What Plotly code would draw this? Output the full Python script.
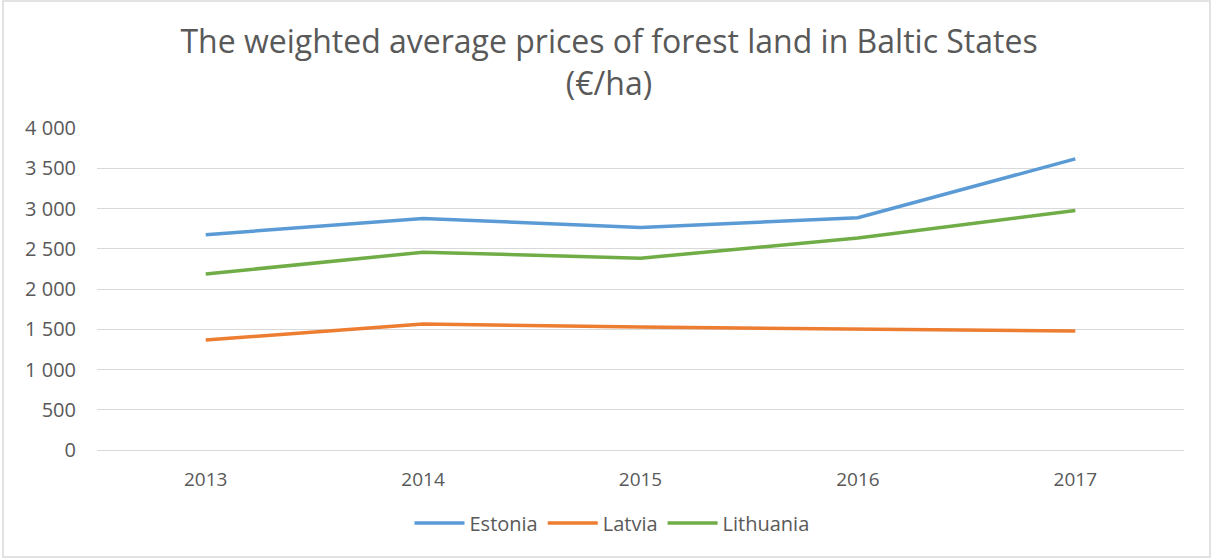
import plotly.graph_objects as go

years = ["2013", "2014", "2015", "2016", "2017"]
estonia = [2675, 2877, 2765, 2885, 3616]
latvia = [1366, 1564, 1527, 1498, 1477]
lithuania = [2187, 2457, 2383, 2633, 2976]

series = [("Estonia", estonia, "#5B9BD5"),
          ("Latvia", latvia, "#ED7D31"),
          ("Lithuania", lithuania, "#70AD47")]

FONT = "Open Sans"
TXT = "#595959"

fig = go.Figure()
for name, vals, col in series:
    fig.add_trace(go.Scatter(x=years, y=vals, mode="lines", name=name,
                             line=dict(color=col, width=3.5)))

W, H = 1212, 559
L, R, T, B = 97, 1184, 128, 450
pw, ph = R - L, B - T

def px(x):
    return (x - L) / pw

def py(y):
    return (B - y) / ph

fig.update_layout(
    width=W, height=H,
    margin=dict(l=L, r=W - R, t=T, b=H - B, pad=0),
    paper_bgcolor="white", plot_bgcolor="white",
    separators=". ",
    font=dict(family=FONT, color=TXT, size=19),
    title=dict(text="The weighted average prices of forest land in Baltic States<br>(€/ha)",
               x=px(609), xref="paper", xanchor="center",
               y=1 - 53 / H, yref="container", yanchor="middle",
               font=dict(family=FONT, size=32, color=TXT)),
    showlegend=True,
    legend=dict(orientation="h", x=px(612), xanchor="center",
                y=py(523), yanchor="middle",
                font=dict(family=FONT, size=20, color=TXT),
                itemwidth=50, tracegroupgap=0),
    xaxis=dict(type="category", range=[-0.5, 4.5], showgrid=False,
               showline=False, zeroline=False, ticks="",
               ticklabelstandoff=16,
               tickfont=dict(family=FONT, size=19, color=TXT)),
    yaxis=dict(range=[0, 4000], dtick=500, tickformat=",d",
               showgrid=True, gridcolor="#D9D9D9", gridwidth=1,
               zeroline=True, zerolinecolor="#D9D9D9", zerolinewidth=1,
               showline=False, ticks="", ticklabelstandoff=20,
               tickfont=dict(family=FONT, size=20, color=TXT)),
    shapes=[dict(type="rect", xref="paper", yref="paper",
                 x0=px(3), x1=px(1210), y0=py(557), y1=py(1),
                 line=dict(color="#D9D9D9", width=1.5), layer="below")],
)

fig.write_html("out.html", config={"displayModeBar": False},
               post_script="document.body.style.margin='0';document.body.style.overflow='hidden';")
